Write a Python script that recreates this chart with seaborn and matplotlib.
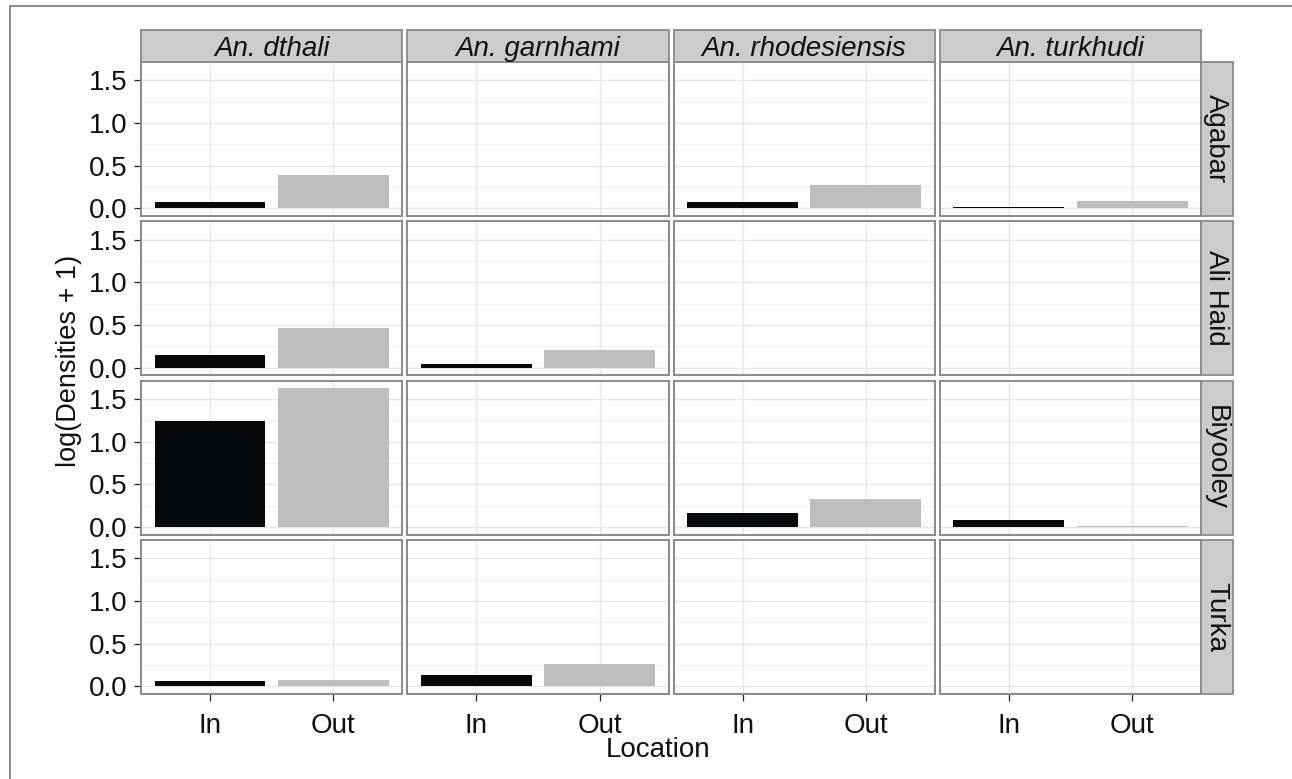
import matplotlib
matplotlib.use("Agg")
import matplotlib.pyplot as plt
import seaborn as sns
import pandas as pd
import numpy as np
from matplotlib.patches import Rectangle
from matplotlib.lines import Line2D

# ---------------- data ----------------
species = ["An. dthali", "An. garnhami", "An. rhodesiensis", "An. turkhudi"]
sites = ["Agabar", "Ali Haid", "Biyooley", "Turka"]
locations = ["In", "Out"]

rec_site = ["Agabar", "Agabar", "Agabar", "Agabar", "Agabar", "Agabar",
            "Ali Haid", "Ali Haid", "Ali Haid", "Ali Haid",
            "Biyooley", "Biyooley", "Biyooley", "Biyooley", "Biyooley", "Biyooley",
            "Turka", "Turka", "Turka", "Turka"]
rec_species = ["An. dthali", "An. dthali", "An. rhodesiensis", "An. rhodesiensis", "An. turkhudi", "An. turkhudi",
               "An. dthali", "An. dthali", "An. garnhami", "An. garnhami",
               "An. dthali", "An. dthali", "An. rhodesiensis", "An. rhodesiensis", "An. turkhudi", "An. turkhudi",
               "An. dthali", "An. dthali", "An. garnhami", "An. garnhami"]
rec_location = ["In", "Out"] * 10
rec_value = [0.07, 0.39, 0.07, 0.27, 0.015, 0.08,
             0.15, 0.47, 0.04, 0.21,
             1.24, 1.63, 0.165, 0.33, 0.083, 0.012,
             0.06, 0.08, 0.135, 0.26]

df = pd.DataFrame({"Site": rec_site, "Species": rec_species,
                   "Location": rec_location, "Value": rec_value})

yticks = [0.0, 0.5, 1.0, 1.5]
ytick_labels = ["0.0", "0.5", "1.0", "1.5"]
yminor = [0.25, 0.75, 1.25]

# ---------------- style ----------------
sns.set_theme(style="white")
plt.rcParams["font.family"] = ["Liberation Sans", "DejaVu Sans"]

W, H = 1292, 779
fig = plt.figure(figsize=(W / 100, H / 100), dpi=100)

def fx(x):
    return x / W

def fy(y):
    return 1 - y / H

pal = {"In": "#06080a", "Out": "#BEBEBE"}
border = "#8a8a8a"
strip_fill = "#CCCCCC"
grid_major = "#E6E6E6"
grid_minor = "#F2F2F2"

col_left0, col_w, col_gap = 141.0, 261.3, 5.0
row_top0, row_h, row_gap = 61.7, 154.2, 5.2
strip_top = 30.0
strip_r_w = 32.0

for r, site in enumerate(sites):
    for c, sp in enumerate(species):
        x0 = col_left0 + c * (col_w + col_gap)
        y0 = row_top0 + r * (row_h + row_gap)
        ax = fig.add_axes([fx(x0), fy(y0 + row_h), col_w / W, row_h / H])
        sub = df[(df["Site"] == site) & (df["Species"] == sp)]
        if len(sub) > 0:
            sns.barplot(data=sub, x="Location", y="Value", hue="Location",
                        order=locations, hue_order=locations, palette=pal,
                        width=0.9, errorbar=None, legend=False, ax=ax,
                        linewidth=0, zorder=3)
        ax.set_xticks([0, 1])
        ax.set_xlim(-0.56, 1.56)
        ax.set_ylim(-0.09, 1.718)
        ax.set_yticks(yticks)
        ax.set_yticks(yminor, minor=True)
        ax.set_xlabel("")
        ax.set_ylabel("")
        ax.set_axisbelow(True)
        for v in yticks:
            ax.axhline(v, color=grid_major, lw=1.0, zorder=0)
        for v in yminor:
            ax.axhline(v, color=grid_minor, lw=0.8, zorder=0)
        for v in [0, 1]:
            ax.axvline(v, color=grid_major, lw=1.0, zorder=0)
        for s in ax.spines.values():
            s.set_color(border)
            s.set_linewidth(1.4)
            s.set_visible(True)
        ax.tick_params(axis="both", which="major", length=5, width=0.9,
                       color="#222222", labelcolor="#111111", labelsize=20,
                       direction="out")
        ax.tick_params(axis="y", which="minor", length=0)
        ax.tick_params(axis="y", pad=4.5)
        ax.tick_params(axis="x", pad=8.5)
        ax.tick_params(left=(c == 0), bottom=(r == len(sites) - 1))
        if c == 0:
            ax.set_yticklabels(ytick_labels)
        else:
            ax.set_yticklabels([])
        if r == len(sites) - 1:
            ax.set_xticklabels(locations)
        else:
            ax.set_xticklabels([])

        # top strips
        if r == 0:
            fig.patches.append(Rectangle((fx(x0), fy(row_top0)), col_w / W,
                                         (row_top0 - strip_top) / H,
                                         transform=fig.transFigure,
                                         facecolor=strip_fill, edgecolor=border,
                                         linewidth=1.3, zorder=5))
            fig.text(fx(x0 + col_w / 2), fy(56.0), sp,
                     ha="center", va="baseline", fontsize=20, style="italic",
                     color="#111111", zorder=6)
        # right strips
        if c == len(species) - 1:
            xs = x0 + col_w
            fig.patches.append(Rectangle((fx(xs), fy(y0 + row_h)), strip_r_w / W,
                                         row_h / H, transform=fig.transFigure,
                                         facecolor=strip_fill, edgecolor=border,
                                         linewidth=1.3, zorder=5))
            fig.text(fx(xs + strip_r_w / 2 - 1), fy(y0 + row_h / 2), site,
                     ha="center", va="center", fontsize=20, rotation=270,
                     color="#111111", zorder=6)

fig.text(fx(658), fy(757), "Location", ha="center", va="baseline",
         fontsize=20, color="#111111")
fig.text(fx(69), fy(361), "log(Densities + 1)", ha="center", va="center",
         fontsize=19.5, rotation=90, color="#111111")

# outer frame (partly cropped)
fig.add_artist(Line2D([fx(10), fx(10), fx(1295)], [fy(782), fy(6), fy(6)],
                      transform=fig.transFigure, color="#8c8c8c", lw=1.5))

fig.savefig("out.png", dpi=100, facecolor="white")
